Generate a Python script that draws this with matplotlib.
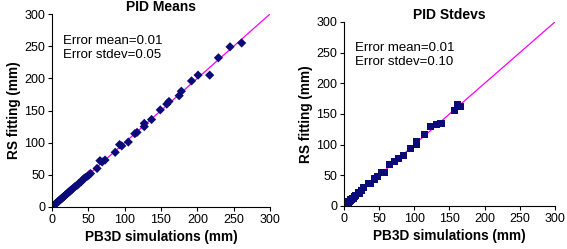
import matplotlib.pyplot as plt
import numpy as np

plt.rcParams['font.family'] = ['Liberation Sans', 'DejaVu Sans']

# PID means: PB3D simulations vs RS fitting
means_x = [1, 2, 3, 4, 5, 6, 7, 8, 9, 10, 11, 12, 13, 14, 15, 16, 17, 18, 19, 20,
           22, 23, 24, 25, 26, 28, 30, 32, 35, 37, 40, 42, 44, 46, 49, 51, 53, 62,
           66, 69, 73, 87, 93, 96, 105, 114, 117, 127, 127, 137, 149, 158, 161,
           175, 178, 192, 201, 217, 229, 245, 261]
means_y = [1, 2, 3, 4, 5, 6, 7, 8, 9, 10, 11, 12, 13, 14, 15, 16, 17, 18, 19, 20,
           22, 23, 24, 25, 26, 28, 30, 32, 34, 37, 39, 42, 44, 46, 48, 50, 52, 60,
           72, 70, 73, 85, 97, 95, 101, 114, 116, 125, 130, 136, 151, 160, 164,
           173, 180, 196, 205, 205, 232, 249, 255]

# PID stdevs
stdevs_x = [0.5, 1, 2, 3, 4, 5, 6, 7, 8, 9, 10, 12, 13, 15, 17, 20, 22, 25, 28,
            35, 37, 44, 48, 53, 58, 65, 72, 77, 84, 94, 103, 103, 115, 123, 131,
            138, 157, 161, 165]
stdevs_y = [1, 2, 2, 3, 4, 5, 6, 7, 8, 9, 10, 12, 12, 15, 17, 22, 21, 26, 30,
            37, 36, 44, 48, 55, 55, 68, 72, 78, 83, 94, 101, 105, 116, 129, 133,
            135, 155, 165, 162]

ticks = [0, 50, 100, 150, 200, 250, 300]
navy = '#0a0a78'

fig = plt.figure(figsize=(5.67, 2.49), dpi=100)
ax1 = fig.add_axes([0.0917, 0.1687, 0.3845, 0.775])
ax2 = fig.add_axes([0.6067, 0.1727, 0.372, 0.739])

panels = [
    (ax1, means_x, means_y, 'D', 22, 'PID Means', 'Error mean=0.01\nError stdev=0.05'),
    (ax2, stdevs_x, stdevs_y, 's', 26, 'PID Stdevs', 'Error mean=0.01\nError stdev=0.10'),
]

for ax, xs, ys, mk, ms, title, note in panels:
    ax.plot([0, 300], [0, 300], color='#ff00ff', lw=0.9, zorder=1)
    ax.scatter(xs, ys, marker=mk, s=ms, color=navy, edgecolors='none', zorder=2)
    ax.set_xlim(0, 300)
    ax.set_ylim(0, 300)
    ax.set_xticks(ticks)
    ax.set_yticks(ticks)
    for s in ['top', 'right']:
        ax.spines[s].set_visible(False)
    ax.tick_params(direction='out', length=3, labelsize=9, pad=2)
    ax.set_title(title, fontsize=10, fontweight='bold', pad=2)
    ax.set_xlabel('PB3D simulations (mm)', fontsize=9.8, fontweight='bold', labelpad=3)
    ax.set_ylabel('RS fitting (mm)', fontsize=9.8, fontweight='bold', labelpad=2)
    ax.text(0.05, 0.89, note, transform=ax.transAxes, fontsize=9.5, va='top',
            linespacing=1.2)

fig.savefig('out.png', dpi=100)
